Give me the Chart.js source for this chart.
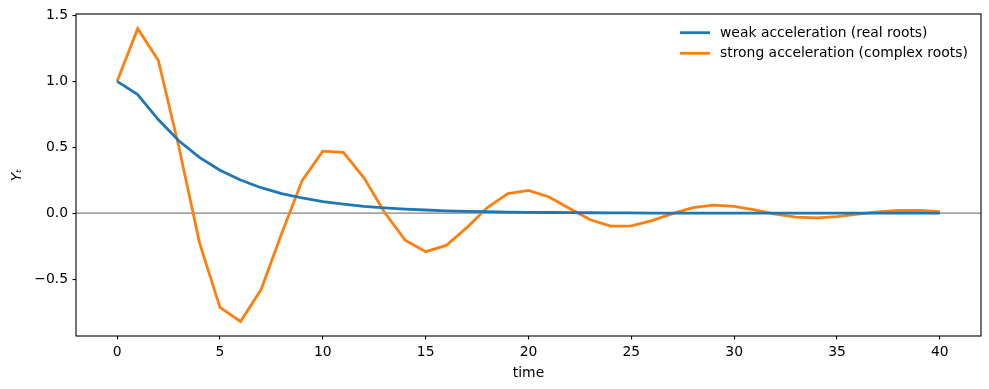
<!DOCTYPE html>
<html>
<head>
<meta charset="utf-8">
<script src="https://cdn.jsdelivr.net/npm/chart.js@4/dist/chart.umd.min.js"></script>
<style>
html,body{margin:0;padding:0;background:#fff;}
#wrap{width:989px;height:389px;}
</style>
</head>
<body>
<div id="wrap"><canvas id="c" width="989" height="389"></canvas></div>
<script>
const time = [0,1,2,3,4,5,6,7,8,9,10,11,12,13,14,15,16,17,18,19,20,21,22,23,24,25,26,27,28,29,30,31,32,33,34,35,36,37,38,39,40];
const weak = [1.0,0.9,0.71,0.549,0.423,0.326,0.251,0.193,0.149,0.115,0.088,0.068,0.052,0.040,0.031,0.024,0.018,0.014,0.011,0.008,0.006,0.005,0.004,0.003,0.002,0.002,0.001,0.001,0.001,0.001,0.0,0.0,0.0,0.0,0.0,0.0,0.0,0.0,0.0,0.0,0.0];
const strong = [1.0,1.4,1.16,0.504,-0.222,-0.715,-0.822,-0.580,-0.154,0.249,0.471,0.461,0.268,0.007,-0.205,-0.292,-0.245,-0.110,0.043,0.148,0.172,0.123,0.035,-0.050,-0.098,-0.097,-0.057,-0.003,0.042,0.061,0.052,0.024,-0.008,-0.030,-0.036,-0.026,-0.008,0.010,0.020,0.020,0.012];
const seriesLabels = ['weak acceleration (real roots)', 'strong acceleration (complex roots)'];
const seriesColors = ['#1f77b4', '#ff7f0e'];
const xTicks = [0,5,10,15,20,25,30,35,40];
const yTicks = [-0.5,0.0,0.5,1.0,1.5];

const FONT = 'DejaVu Sans';
const FS = 13.9;

const toPts = (ys) => ys.map((y, i) => ({x: time[i], y: y}));

const framePlugin = {
  id: 'frame',
  beforeDatasetsDraw(chart) {
    const {ctx, chartArea: a, scales} = chart;
    const y0 = scales.y.getPixelForValue(0);
    ctx.save();
    ctx.strokeStyle = '#808080';
    ctx.lineWidth = 1.1;
    ctx.beginPath();
    ctx.moveTo(a.left, y0);
    ctx.lineTo(a.right, y0);
    ctx.stroke();
    ctx.restore();
  },
  afterDatasetsDraw(chart) {
    const {ctx, chartArea: a} = chart;
    ctx.save();
    ctx.strokeStyle = '#000';
    ctx.lineWidth = 1.1;
    ctx.strokeRect(a.left, a.top, a.right - a.left, a.bottom - a.top);
    ctx.font = FS + 'px "' + FONT + '"';
    ctx.textBaseline = 'middle';
    ctx.fillStyle = '#000';
    const rows = [32.7, 53.3];
    chart.data.datasets.forEach((ds, i) => {
      ctx.strokeStyle = ds.borderColor;
      ctx.lineWidth = 2.8;
      ctx.beginPath();
      ctx.moveTo(680, rows[i]);
      ctx.lineTo(710, rows[i]);
      ctx.stroke();
      ctx.fillText(ds.label, 720, rows[i] + 0.5);
    });
    ctx.restore();
  }
};

const fmt = (v) => v.toFixed(1).replace('-', '\u2212');

new Chart(document.getElementById('c'), {
  type: 'line',
  data: {
    datasets: [
      {label: seriesLabels[0], data: toPts(weak), borderColor: seriesColors[0], backgroundColor: seriesColors[0], borderWidth: 2.8, pointRadius: 0, tension: 0, fill: false},
      {label: seriesLabels[1], data: toPts(strong), borderColor: seriesColors[1], backgroundColor: seriesColors[1], borderWidth: 2.8, pointRadius: 0, tension: 0, fill: false}
    ]
  },
  options: {
    responsive: false,
    animation: false,
    devicePixelRatio: 1,
    layout: {padding: {top: 14, right: 8, left: 0, bottom: 0}},
    plugins: {legend: {display: false}, tooltip: {enabled: false}},
    scales: {
      x: {
        type: 'linear',
        min: -2, max: 42,
        afterFit: (s) => { s.height = 53; },
        afterBuildTicks: (s) => { s.ticks = xTicks.map(v => ({value: v})); },
        grid: {drawOnChartArea: false, drawTicks: true, tickLength: 3.5, color: '#000', lineWidth: 1.1},
        border: {display: false},
        ticks: {padding: 4.5, color: '#000', font: {family: FONT, size: FS}, maxRotation: 0, callback: (v) => String(v)},
        title: {display: true, text: 'time', color: '#000', font: {family: FONT, size: FS}, padding: {top: 0, bottom: 7.5}}
      },
      y: {
        type: 'linear',
        min: -0.932, max: 1.511,
        afterFit: (s) => { s.width = 76; },
        afterBuildTicks: (s) => { s.ticks = yTicks.map(v => ({value: v})); },
        grid: {drawOnChartArea: false, drawTicks: true, tickLength: 3.5, color: '#000', lineWidth: 1.1},
        border: {display: false},
        ticks: {padding: 4.5, color: '#000', font: {family: FONT, size: FS}, callback: (v) => fmt(v)},
        title: {display: true, text: 'Y\u209C', color: '#000', font: {family: FONT, size: FS, style: 'italic'}, padding: {top: 9, bottom: 0}}
      }
    }
  },
  plugins: [framePlugin]
});
</script>
</body>
</html>
